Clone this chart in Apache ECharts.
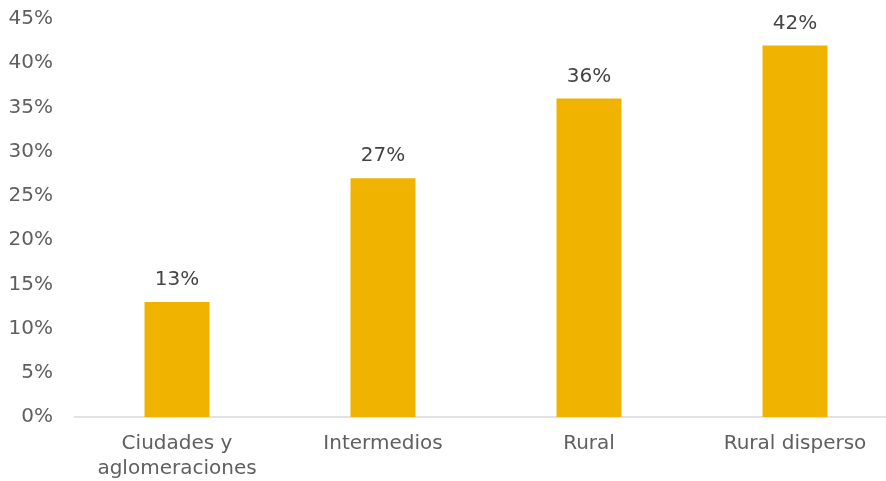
<!DOCTYPE html>
<html>
<head>
<meta charset="utf-8">
<script src="https://cdn.jsdelivr.net/npm/echarts@6/dist/echarts.min.js"></script>
<style>
  html, body { margin: 0; padding: 0; background: #fff; }
  #chart { width: 886px; height: 481px; }
</style>
</head>
<body>
<div id="chart"></div>
<script>
var categories = ['Ciudades y\naglomeraciones', 'Intermedios', 'Rural', 'Rural disperso'];
var values = [13, 27, 36, 42];

var chart = echarts.init(document.getElementById('chart'));

var option = {
    animation: false,
    textStyle: { fontFamily: '"DejaVu Sans", sans-serif' },
    grid: { left: 74, right: -12, top: 19, bottom: 64, outerBoundsMode: 'none', containLabel: false },
    xAxis: {
        type: 'category',
        data: categories,
        axisTick: { show: false },
        axisLine: { lineStyle: { color: '#d9d9d9', width: 1.5 } },
        axisLabel: {
            color: '#5f5f5f',
            fontSize: 20,
            margin: 14,
            lineHeight: 25,
            interval: 0
        }
    },
    yAxis: {
        type: 'value',
        min: 0,
        max: 45,
        interval: 5,
        splitLine: { show: false },
        axisLine: { show: false },
        axisTick: { show: false },
        axisLabel: {
            color: '#5f5f5f',
            fontSize: 20,
            margin: 21,
            formatter: '{value}%'
        }
    },
    series: [{
        type: 'bar',
        data: values,
        barWidth: 65,
        itemStyle: { color: '#F0B400' },
        label: {
            show: true,
            position: 'top',
            distance: 12,
            color: '#444444',
            fontSize: 20,
            formatter: '{c}%'
        }
    }]
};

chart.setOption(option);
</script>
</body>
</html>
